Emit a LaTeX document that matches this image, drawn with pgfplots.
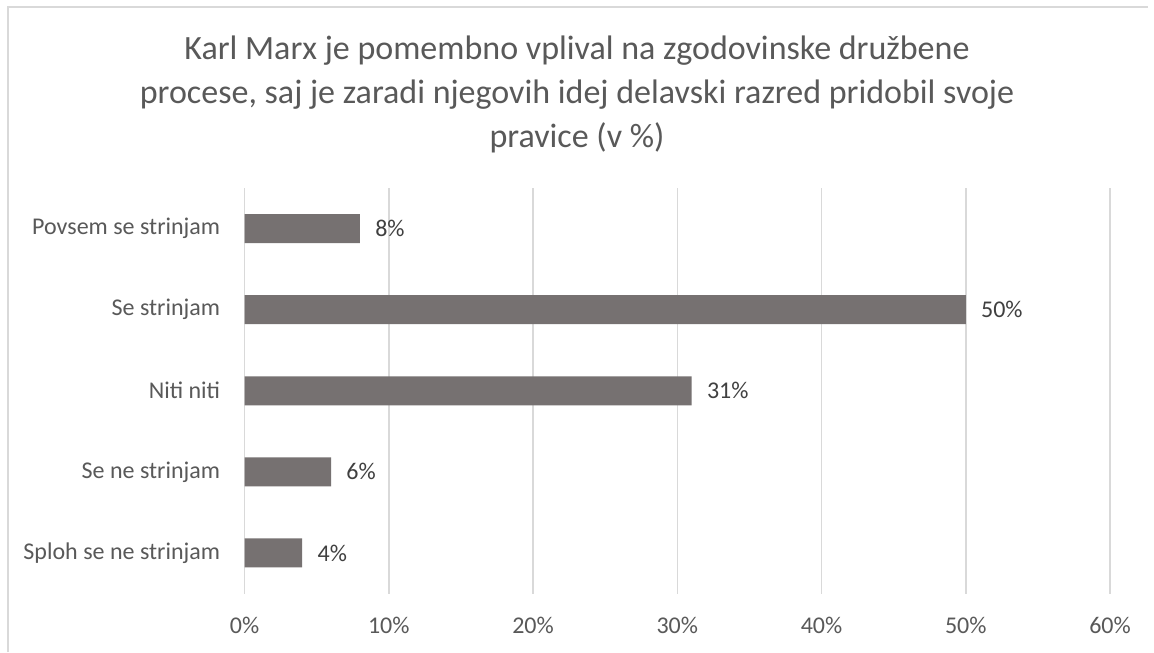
\documentclass[border=0pt]{standalone}
\usepackage{fontspec}
\setmainfont{Carlito}
\usepackage{pgfplots}
\pgfplotsset{compat=1.18}
\definecolor{barcol}{HTML}{767171}
\definecolor{gridcol}{HTML}{D9D9D9}
\definecolor{txtcol}{HTML}{595959}
\definecolor{lblcol}{HTML}{404040}
\begin{document}
\begin{tikzpicture}[x=1pt,y=1pt]
\useasboundingbox (0,0) rectangle (577,326);
\fill[white] (0,0) rectangle (577,326);
\draw[gridcol, line width=0.75pt] (4,0) -- (4,322.5) -- (574,322.5);
\begin{scope}[every node/.style={font=\fontsize{17}{20}\selectfont, text=txtcol, anchor=base, inner sep=0pt}]
\node at (288.5,296.35) {Karl Marx je pomembno vplival na zgodovinske družbene};
\node at (288.5,274.1) {procese, saj je zaradi njegovih idej delavski razred pridobil svoje};
\node at (288.5,252.0) {pravice (v \%)};
\end{scope}
\begin{axis}[
  at={(122.25pt,29.25pt)}, anchor=south west,
  scale only axis, width=432.75pt, height=202.75pt,
  xbar, bar width=14.5pt,
  xmin=0, xmax=60, ymin=-0.5, ymax=4.5,
  xtick={0,10,20,30,40,50,60},
  xticklabels={0\%,10\%,20\%,30\%,40\%,50\%,60\%},
  ytick={0,1,2,3,4},
  yticklabels={Sploh se ne strinjam, Se ne strinjam, Niti niti, Se strinjam, Povsem se strinjam},
  major tick length=0pt,
  xmajorgrids, grid style={gridcol, line width=0.75pt},
  axis line style={draw=none},
  axis x line*=bottom, axis y line*=left,
  ticklabel style={font=\fontsize{12}{14}\selectfont, text=txtcol, inner sep=0pt},
  xticklabel style={anchor=north, yshift=-11.5pt},
  yticklabel style={anchor=east, xshift=-12pt},
  nodes near coords={\pgfmathprintnumber[assume math mode=true]{\pgfplotspointmeta}\%},
  nodes near coords style={font=\fontsize{12}{14}\selectfont, text=lblcol, anchor=west, inner sep=0pt, xshift=7.5pt},
  clip=false,
]
\draw[gridcol, line width=0.75pt] (axis cs:0,-0.5) -- (axis cs:0,4.5);
\addplot[fill=barcol, draw=none] coordinates {(4,0) (6,1) (31,2) (50,3) (8,4)};
\end{axis}
\end{tikzpicture}
\end{document}
